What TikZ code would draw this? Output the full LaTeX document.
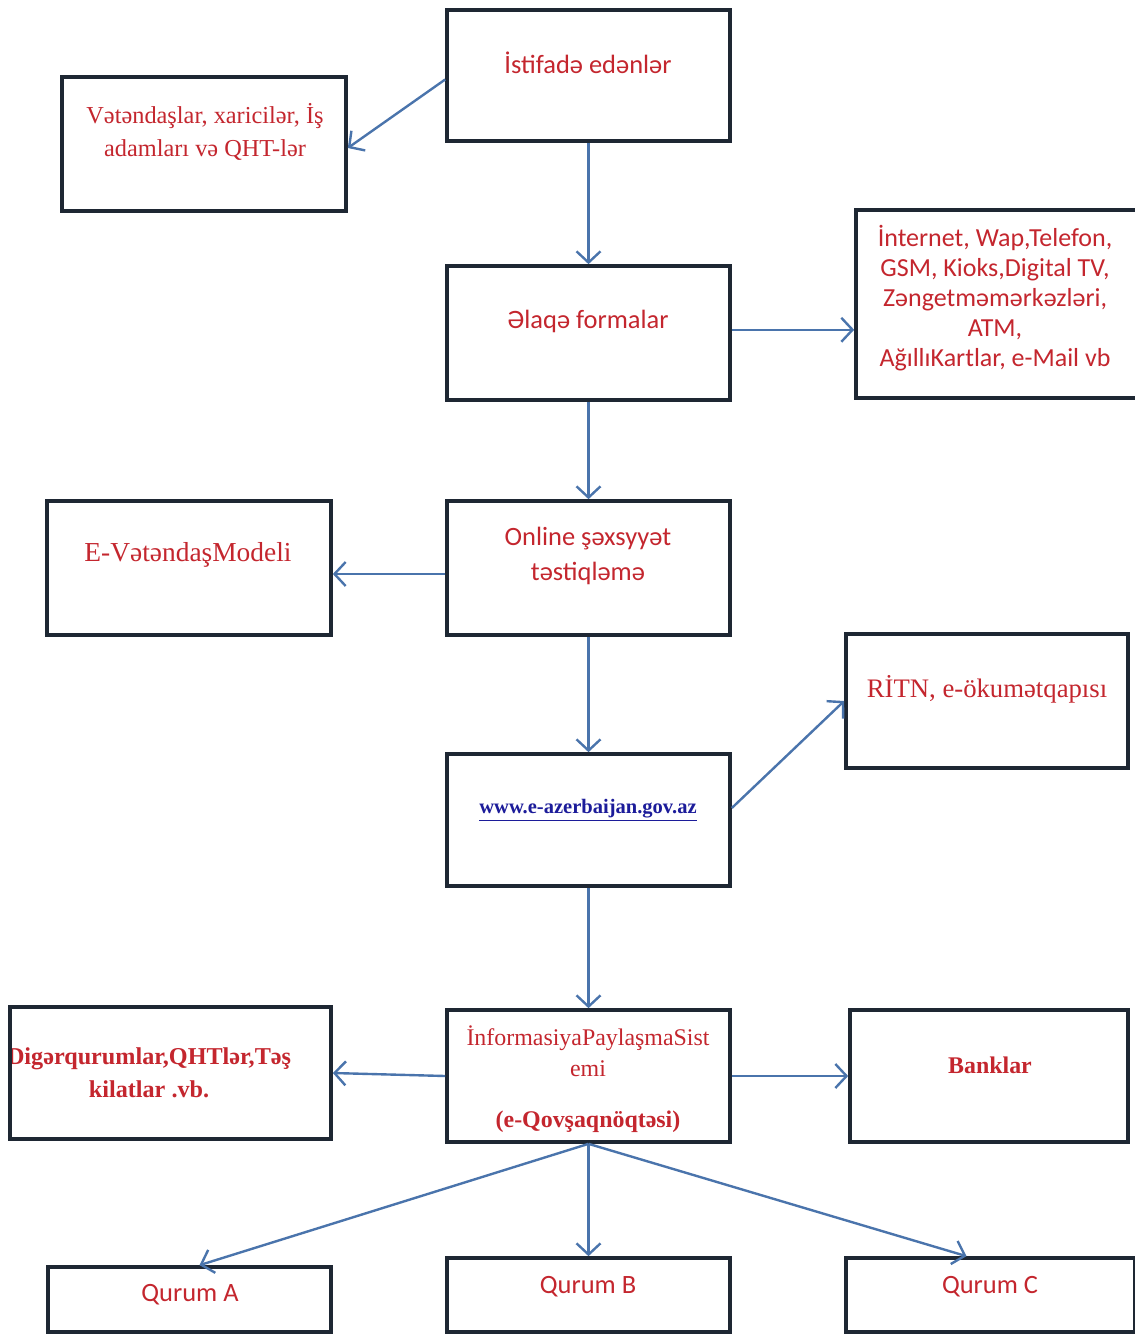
\documentclass[tikz,border=0pt]{standalone}
\usepackage{fontspec}
\setmainfont{Liberation Serif}
\newfontfamily\carl{Carlito}
\usetikzlibrary{arrows.meta,calc}
\definecolor{boxc}{HTML}{1E2733}
\definecolor{arrc}{HTML}{4A74AC}
\definecolor{redc}{HTML}{C4262E}
\definecolor{urlc}{HTML}{1C1C9A}
\tikzset{
  box/.style={draw=boxc, line width=2.6pt, fill=white, inner sep=0pt},
  arr/.style={draw=arrc, line width=1.7pt, -{Straight Barb[length=2.8mm,width=6mm,line width=1.7pt]}},
  stxt/.style={text=redc, font=\carl\fontsize{18.8}{21.2}\selectfont, align=center, inner sep=0pt},
  rtxt/.style={text=redc, font=\fontsize{17.3}{23.5}\selectfont, align=center, inner sep=0pt},
}
\newcommand\bx[5]{\node[box, minimum width={(#4-#2)*0.025cm}, minimum height={(#5-#3)*0.025cm}] (#1) at ({(#2+#4)/2},{(#3+#5)/2}) {};}
\begin{document}
\begin{tikzpicture}[x=0.025cm,y=-0.025cm]
\useasboundingbox (0,0) rectangle (1135,1334);
\clip (0,0) rectangle (1135,1334);
\fill[white] (0,0) rectangle (1135,1334);
% boxes
\bx{ist}{447}{10}{730}{141}
\bx{vat}{62}{77}{346}{211}
\bx{elaqe}{447}{266}{730}{400}
\bx{inet}{856}{210}{1140}{398}
\bx{evat}{47}{501}{331}{635}
\bx{online}{447}{501}{730}{635}
\bx{ritn}{846}{634}{1128}{768}
\bx{www}{447}{754}{730}{886}
\bx{info}{447}{1010}{730}{1142}
\bx{diger}{10}{1007}{331}{1139}
\bx{bank}{850}{1010}{1128}{1142}
\bx{qa}{48}{1267}{331}{1332}
\bx{qb}{447}{1258}{730}{1332}
\bx{qc}{846}{1258}{1135}{1332}
% texts
\node[stxt] (tist) at (588,63) {İstifadə edənlər};
\node[rtxt] (tvat) at (205,132) {Vətəndaşlar, xaricilər, İş\\adamları və QHT-lər};
\node[stxt] (telaqe) at (588,321) {Əlaqə formalar};
\node[stxt, font=\carl\fontsize{18.5}{21.2}\selectfont] (tinet) at (995,298) {İnternet, Wap,Telefon,\\GSM, Kioks,Digital TV,\\Zəngetməmərkəzləri,\\ATM,\\AğıllıKartlar, e-Mail vb};
\node[rtxt, font=\fontsize{19.5}{23.5}\selectfont] (tevat) at (188,555) {E-VətəndaşModeli};
\node[stxt, font=\carl\fontsize{18.8}{25.5}\selectfont] (tonline) at (588,556) {Online şəxsyyət\\təstiqləmə};
\node[rtxt, font=\fontsize{19}{23.5}\selectfont] (tritn) at (987,689) {RİTN, e-ökumətqapısı};
\node[rtxt, text=urlc, font=\bfseries\fontsize{14.6}{18}\selectfont] (twww) at (588,810) {\underline{www.e-azerbaijan.gov.az}};
\node[rtxt, font=\fontsize{17}{22}\selectfont] (tinfo) at (588,1051) {İnformasiyaPaylaşmaSist\\emi};
\node[rtxt, font=\bfseries\fontsize{17}{22}\selectfont] (tinfo2) at (588,1122) {(e-Qovşaqnöqtəsi)};
\begin{scope}
\clip (12,1009) rectangle (329,1137);
\node[rtxt, font=\bfseries\fontsize{17.2}{23.5}\selectfont] (tdiger) at (149,1073) {Digərqurumlar,QHTlər,Təş\\kilatlar .vb.};
\end{scope}
\node[rtxt, font=\bfseries\fontsize{17}{20}\selectfont] (tbank) at (990,1065) {Banklar};
\node[stxt] (tqa) at (190,1295) {Qurum A};
\node[stxt] (tqb) at (588,1287) {Qurum B};
\node[stxt] (tqc) at (990,1287) {Qurum C};
% connectors
\draw[arr] ([yshift=-0.1cm]ist.west) -- ([yshift=-0.1cm]vat.east);
\draw[arr] (ist.south) -- (elaqe.north);
\draw[arr] ([yshift=0.08cm]elaqe.east) -- ([yshift=0.08cm]elaqe.east -| inet.west);
\draw[arr] ([yshift=-0.15cm]online.west) -- ([yshift=-0.15cm]online.west -| evat.east);
\draw[arr] (elaqe.south) -- (online.north);
\draw[arr] (online.south) -- (www.north);
\draw[arr] ([yshift=0.3cm]www.east) -- (ritn.west);
\draw[arr] (www.south) -- (info.north);
\draw[arr] (info.west) -- (diger.east);
\draw[arr] (info.east) -- (info.east -| bank.west);
\draw[arr] (info.south) -- ([xshift=0.25cm]qa.north);
\draw[arr] (info.south) -- (qb.north);
\draw[arr] (info.south) -- ([xshift=-0.6cm]qc.north);
\end{tikzpicture}
\end{document}
